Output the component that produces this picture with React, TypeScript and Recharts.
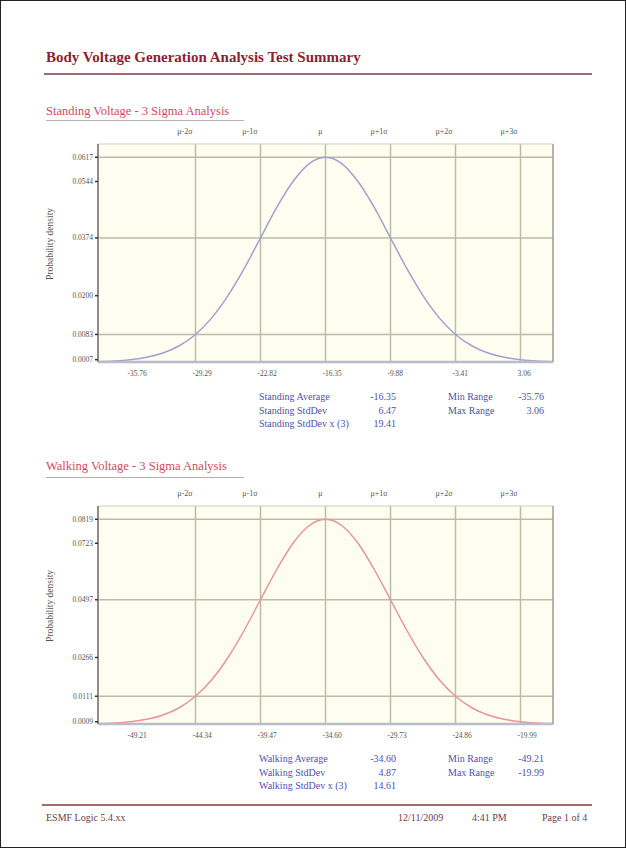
import React from 'react';
import { LineChart, Line, XAxis, YAxis, ReferenceLine, ReferenceArea } from 'recharts';

// sigma positions along the x axis (μ ± 3.5σ)
const zSteps = [
  -3.5, -3.25, -3, -2.75, -2.5, -2.25, -2, -1.75, -1.5, -1.25, -1, -0.75, -0.5, -0.25, 0,
  0.25, 0.5, 0.75, 1, 1.25, 1.5, 1.75, 2, 2.25, 2.5, 2.75, 3, 3.25, 3.5,
];

const standingDensity = [
  0.0001, 0.0003, 0.0007, 0.0014, 0.0027, 0.0049, 0.0083, 0.0133, 0.02, 0.0282, 0.0374, 0.0466, 0.0544, 0.0598, 0.0617,
  0.0598, 0.0544, 0.0466, 0.0374, 0.0282, 0.02, 0.0133, 0.0083, 0.0049, 0.0027, 0.0014, 0.0007, 0.0003, 0.0001,
];
const walkingDensity = [
  0.0002, 0.0004, 0.0009, 0.0019, 0.0036, 0.0065, 0.0111, 0.0177, 0.0266, 0.0375, 0.0497, 0.0618, 0.0723, 0.0794, 0.0819,
  0.0794, 0.0723, 0.0618, 0.0497, 0.0375, 0.0266, 0.0177, 0.0111, 0.0065, 0.0036, 0.0019, 0.0009, 0.0004, 0.0002,
];

const topTicks = [-2, -1, 0, 1, 2, 3];
const topLabels = ['μ-2σ', 'μ-1σ', 'μ', 'μ+1σ', 'μ+2σ', 'μ+3σ'];
const bottomTicks = [-3, -2, -1, 0, 1, 2, 3];
const standingBottomLabels = ['-35.76', '-29.29', '-22.82', '-16.35', '-9.88', '-3.41', '3.06'];
const walkingBottomLabels = ['-49.21', '-44.34', '-39.47', '-34.60', '-29.73', '-24.86', '-19.99'];

const standingYTicks = [0.0007, 0.0083, 0.02, 0.0374, 0.0544, 0.0617];
const walkingYTicks = [0.0009, 0.0111, 0.0266, 0.0497, 0.0723, 0.0819];
const standingGridY = [0.0083, 0.0374, 0.0617];
const walkingGridY = [0.0111, 0.0497, 0.0819];
const standingYMax = 0.0657;
const walkingYMax = 0.0872;

const standingStats = [
  ['Standing Average', '-16.35'],
  ['Standing StdDev', '6.47'],
  ['Standing StdDev x (3)', '19.41'],
];
const standingRange = [
  ['Min Range', '-35.76'],
  ['Max Range', '3.06'],
];
const walkingStats = [
  ['Walking Average', '-34.60'],
  ['Walking StdDev', '4.87'],
  ['Walking StdDev x (3)', '14.61'],
];
const walkingRange = [
  ['Min Range', '-49.21'],
  ['Max Range', '-19.99'],
];

const FONT = '"Liberation Serif", "DejaVu Serif", serif';
const gridColor = '#b9bca6';

interface SigmaChartProps {
  top: number;
  density: number[];
  yTicks: number[];
  gridY: number[];
  yMax: number;
  bottomLabels: string[];
  color: string;
}

const SigmaChart: React.FC<SigmaChartProps> = ({ top, density, yTicks, gridY, yMax, bottomLabels, color }) => {
  const data = zSteps.map((z, i) => ({ z, d: density[i] }));

  const topTick = (p: any) => {
    const i = topTicks.indexOf(p.payload.value);
    return (
      <text x={p.x - 3} y={p.y - 2} textAnchor="end" fontSize={8} fill="#555" fontFamily={FONT}>
        {topLabels[i]}
      </text>
    );
  };
  const bottomTick = (p: any) => {
    const i = bottomTicks.indexOf(p.payload.value);
    return (
      <text x={p.x - 3} y={p.y + 6} textAnchor="start" fontSize={7.5} fill="#555" fontFamily={FONT}>
        {bottomLabels[i]}
      </text>
    );
  };
  const leftTick = (p: any) => (
    <text x={p.x} y={p.y + 2.5} textAnchor="end" fontSize={7.5} fill="#555" fontFamily={FONT}>
      {p.payload.value.toFixed(4)}
    </text>
  );
  const rightTick = (p: any) => (
    <text x={p.x + 2} y={p.y + 2.5} textAnchor="start" fontSize={7.5} fill="#555" fontFamily={FONT}>
      {p.payload.value.toFixed(4)}
    </text>
  );

  return (
    <div style={{ position: 'absolute', left: 0, top }}>
      <LineChart width={626} height={400} data={data} margin={{ top: 123, right: 24, bottom: 19, left: 47 }}>
        <XAxis
          xAxisId="bottom"
          dataKey="z"
          type="number"
          domain={[-3.5, 3.5]}
          ticks={bottomTicks}
          tick={bottomTick}
          axisLine={{ stroke: '#b8bccb', strokeWidth: 2.5 }}
          tickLine={false}
          height={20}
        />
        <XAxis
          xAxisId="top"
          orientation="top"
          dataKey="z"
          type="number"
          domain={[-3.5, 3.5]}
          ticks={topTicks}
          tick={topTick}
          axisLine={{ stroke: '#cfcfc4', strokeWidth: 1 }}
          tickLine={false}
          height={20}
        />
        <YAxis
          yAxisId="left"
          type="number"
          domain={[0, yMax]}
          ticks={yTicks}
          tick={leftTick}
          axisLine={{ stroke: '#8e8e84', strokeWidth: 2 }}
          tickLine={{ stroke: '#333', strokeWidth: 1.5 }}
          tickSize={3}
          width={50}
        />
        <YAxis
          yAxisId="right"
          orientation="right"
          type="number"
          domain={[0, yMax]}
          ticks={yTicks}
          tick={rightTick}
          axisLine={{ stroke: '#9d9d94', strokeWidth: 1.5 }}
          tickLine={{ stroke: '#777', strokeWidth: 1 }}
          tickSize={3}
          width={50}
        />
        <ReferenceArea
          xAxisId="bottom"
          yAxisId="left"
          x1={-3.5}
          x2={3.5}
          y1={0}
          y2={yMax}
          fill="#fefef0"
          fillOpacity={1}
          stroke="none"
        />
        {gridY.map((v) => (
          <ReferenceLine key={'h' + v} xAxisId="bottom" yAxisId="left" y={v} stroke={gridColor} strokeWidth={1.5} />
        ))}
        {topTicks.map((v) => (
          <ReferenceLine key={'v' + v} xAxisId="bottom" yAxisId="left" x={v} stroke={gridColor} strokeWidth={1.5} />
        ))}
        <Line
          xAxisId="bottom"
          yAxisId="left"
          type="monotone"
          dataKey="d"
          stroke={color}
          strokeWidth={1.5}
          dot={false}
          isAnimationActive={false}
        />
      </LineChart>
    </div>
  );
};

const StatsBlock: React.FC<{ top: number; left: string[][]; right: string[][] }> = ({ top, left, right }) => {
  const txt: React.CSSProperties = { position: 'absolute', fontSize: 10, lineHeight: 1, color: '#4f4fb0', fontFamily: FONT, whiteSpace: 'nowrap' };
  return (
    <>
      {left.map((r, i) => (
        <React.Fragment key={'l' + i}>
          <div style={{ ...txt, left: 258, top: top + i * 13.5 }}>{r[0]}</div>
          <div style={{ ...txt, right: 626 - 397, top: top + i * 13.5, textAlign: 'right' }}>{r[1]}</div>
        </React.Fragment>
      ))}
      {right.map((r, i) => (
        <React.Fragment key={'r' + i}>
          <div style={{ ...txt, left: 447, top: top + i * 13.5 }}>{r[0]}</div>
          <div style={{ ...txt, right: 626 - 545, top: top + i * 13.5, textAlign: 'right' }}>{r[1]}</div>
        </React.Fragment>
      ))}
    </>
  );
};

const YLabel: React.FC<{ top: number }> = ({ top }) => (
  <div
    style={{
      position: 'absolute',
      left: 50,
      top,
      transform: 'translate(-50%, -50%) rotate(-90deg)',
      fontSize: 9.5,
      lineHeight: 1,
      color: '#555',
      fontFamily: FONT,
      whiteSpace: 'nowrap',
    }}
  >
    Probability density
  </div>
);

export default function App() {
  const sub: React.CSSProperties = { position: 'absolute', left: 45, fontSize: 12.5, lineHeight: 1, color: '#cf4a5e', fontFamily: FONT, whiteSpace: 'nowrap' };
  const foot: React.CSSProperties = { position: 'absolute', top: 812, fontSize: 10, lineHeight: 1, color: '#6b4050', fontFamily: FONT, whiteSpace: 'nowrap' };
  return (
    <div
      style={{
        position: 'absolute',
        left: 0,
        top: 0,
        width: 626,
        height: 848,
        boxSizing: 'border-box',
        border: '1.5px solid #222',
        background: '#fff',
        overflow: 'hidden',
      }}
    >
      <div style={{ position: 'absolute', left: 45, top: 49, fontSize: 15, fontWeight: 'bold', lineHeight: 1, color: '#8c1f33', fontFamily: FONT, whiteSpace: 'nowrap' }}>
        Body Voltage Generation Analysis Test Summary
      </div>
      <div style={{ position: 'absolute', left: 43, top: 72, width: 548, height: 2, background: '#a86a6e' }} />

      <div style={{ ...sub, top: 104 }}>Standing Voltage - 3 Sigma Analysis</div>
      <div style={{ position: 'absolute', left: 45, top: 119, width: 198, height: 1, background: '#b9b0b0' }} />
      <YLabel top={243} />
      <SigmaChart
        top={0}
        density={standingDensity}
        yTicks={standingYTicks}
        gridY={standingGridY}
        yMax={standingYMax}
        bottomLabels={standingBottomLabels}
        color="#a3a0cf"
      />
      <StatsBlock top={391} left={standingStats} right={standingRange} />

      <div style={{ ...sub, top: 459 }}>Walking Voltage - 3 Sigma Analysis</div>
      <div style={{ position: 'absolute', left: 45, top: 476, width: 198, height: 1, background: '#b9b0b0' }} />
      <YLabel top={605} />
      <SigmaChart
        top={362}
        density={walkingDensity}
        yTicks={walkingYTicks}
        gridY={walkingGridY}
        yMax={walkingYMax}
        bottomLabels={walkingBottomLabels}
        color="#e7949a"
      />
      <StatsBlock top={753} left={walkingStats} right={walkingRange} />

      <div style={{ position: 'absolute', left: 41, top: 803, width: 550, height: 2, background: '#a86a6e' }} />
      <div style={{ ...foot, left: 45 }}>ESMF Logic 5.4.xx</div>
      <div style={{ ...foot, left: 397 }}>12/11/2009</div>
      <div style={{ ...foot, left: 471 }}>4:41 PM</div>
      <div style={{ ...foot, left: 541 }}>Page 1 of 4</div>
    </div>
  );
}
